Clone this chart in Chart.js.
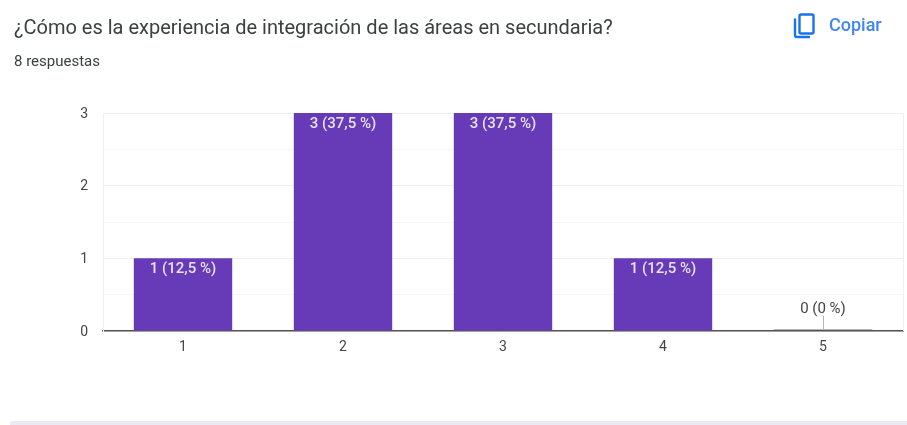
<!DOCTYPE html>
<html lang="es">
<head>
<meta charset="utf-8">
<title>Integración de las áreas</title>
<script src="https://cdn.jsdelivr.net/npm/chart.js@4"></script>
<style>
  html, body { margin: 0; padding: 0; background: #fff; overflow: hidden; }
  body { width: 907px; height: 425px; position: relative; font-family: Roboto, sans-serif; }
  #wrap { position: absolute; left: 0; top: 0; width: 907px; height: 425px; }
  .title { position: absolute; left: 14px; top: 15px; font-size: 20px; line-height: 24px; color: #3c4043; white-space: nowrap; }
  .sub { position: absolute; left: 14px; top: 52px; font-size: 15px; line-height: 18px; color: #3c4043; white-space: nowrap; }
  .copy { position: absolute; left: 829px; top: 15px; font-size: 18px; line-height: 20px; font-weight: 500; color: #4285f4; }
  .icon { position: absolute; left: 790px; top: 10px; }
  .band { position: absolute; left: 10px; right: 0; top: 421px; height: 4px; background: #ecebf5; }
</style>
</head>
<body>
<div id="wrap"><canvas id="chart" width="907" height="425"></canvas></div>
<div class="title">¿Cómo es la experiencia de integración de las áreas en secundaria?</div>
<div class="sub">8 respuestas</div>
<svg class="icon" width="28" height="30" viewBox="0 0 28 30">
  <rect x="9.5" y="4.5" width="14" height="19" rx="1.5" fill="none" stroke="#1a73e8" stroke-width="2.4"/>
  <path d="M5 8.5V25a2 2 0 0 0 2 2h13" fill="none" stroke="#1a73e8" stroke-width="2.4"/>
</svg>
<div class="copy">Copiar</div>
<div class="band"></div>
<script>
const categories = ['1', '2', '3', '4', '5'];
const counts = [1, 3, 3, 1, 0];
const yTicks = [0, 1, 2, 3];
const total = 8;

function pctLabel(v) {
  return `${v} (${String(v / total * 100).replace('.', ',')} %)`;
}

// value labels, zero bar marker and the light frame of the plot
const barLabels = {
  id: 'barLabels',
  afterDatasetsDraw(chart) {
    const { ctx, chartArea } = chart;
    const bars = chart.getDatasetMeta(0).data;
    ctx.save();
    ctx.strokeStyle = '#f0f0f0';
    ctx.beginPath();
    ctx.moveTo(chartArea.right + 0.5, chartArea.top);
    ctx.lineTo(chartArea.right + 0.5, chartArea.bottom);
    ctx.stroke();
    ctx.font = '500 15px Roboto';
    ctx.textAlign = 'center';
    ctx.textBaseline = 'middle';
    bars.forEach((bar, i) => {
      if (counts[i] > 0) {
        ctx.fillStyle = '#e8e4f5';
        ctx.fillText(pctLabel(counts[i]), bar.x, bar.y + 11);
      } else {
        ctx.strokeStyle = '#b5b5b5';
        ctx.beginPath();
        ctx.moveTo(bar.x - bar.width / 2, bar.y - 1.5);
        ctx.lineTo(bar.x + bar.width / 2, bar.y - 1.5);
        ctx.moveTo(bar.x + 0.5, bar.y - 1);
        ctx.lineTo(bar.x + 0.5, bar.y - 15);
        ctx.stroke();
        ctx.font = '15px Roboto';
        ctx.fillStyle = '#444';
        ctx.fillText(pctLabel(counts[i]), bar.x, bar.y - 22);
      }
    });
    ctx.restore();
  }
};

new Chart(document.getElementById('chart'), {
  type: 'bar',
  data: {
    labels: categories,
    datasets: [{
      data: counts,
      backgroundColor: '#673ab7',
      barPercentage: 0.615,
      categoryPercentage: 1
    }]
  },
  options: {
    responsive: false,
    animation: false,
    layout: { padding: { left: 0, top: 113, right: 4, bottom: 0 } },
    plugins: { legend: { display: false }, tooltip: { enabled: false } },
    scales: {
      x: {
        afterFit(scale) { scale.height = 94; },
        grid: { display: false, drawTicks: false },
        border: { color: '#555', width: 1.5 },
        ticks: { color: '#444', font: { family: 'Roboto', size: 14 }, padding: 8, maxRotation: 0 }
      },
      y: {
        min: 0,
        max: 3,
        afterFit(scale) { scale.width = 103; },
        grid: {
          drawTicks: false,
          color: (c) => Number.isInteger(c.tick.value) ? '#efefef' : '#f7f7f7'
        },
        border: { color: '#f0f0f0' },
        ticks: {
          stepSize: 0.5,
          color: '#444',
          font: { family: 'Roboto', size: 14 },
          padding: 15,
          labelOffset: 1,
          callback: (v) => yTicks.includes(v) ? String(v) : ''
        }
      }
    }
  },
  plugins: [barLabels]
});
</script>
</body>
</html>
